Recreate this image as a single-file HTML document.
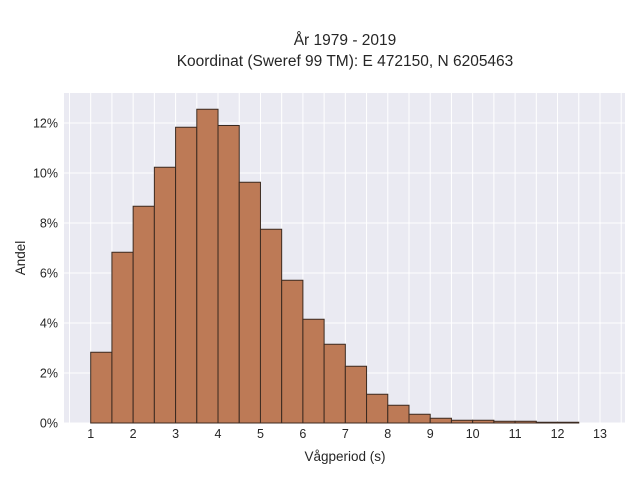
<!DOCTYPE html>
<html><head><meta charset="utf-8"><style>
body{margin:0;background:#fff;}
svg text{font-family:"Liberation Sans",sans-serif;fill:#262626;}
</style></head><body>
<svg id="chart" width="640" height="480">
<text x="345" y="45" text-anchor="middle" font-size="15.5">År 1979 - 2019</text>
<text x="345" y="66" text-anchor="middle" font-size="15.5">Koordinat (Sweref 99 TM): E 472150, N 6205463</text>
<rect x="64" y="93" width="561" height="330" fill="#eaeaf2"/>
<g id="grid"></g>
<g id="bars"></g>
<g id="ticks"></g>
<text x="345" y="461" text-anchor="middle" font-size="13.5">Vågperiod (s)</text>
<text transform="translate(25,258) rotate(-90)" text-anchor="middle" font-size="13.5">Andel</text>
</svg>
<script>
const binStarts=[1,1.5,2,2.5,3,3.5,4,4.5,5,5.5,6,6.5,7,7.5,8,8.5,9,9.5,10,10.5,11,11.5,12];
const shares=[2.83,6.83,8.67,10.23,11.83,12.55,11.9,9.63,7.75,5.71,4.15,3.15,2.27,1.15,0.71,0.35,0.19,0.11,0.11,0.07,0.07,0.03,0.03];
const xTicks=[1,2,3,4,5,6,7,8,9,10,11,12,13];
const yTicks=[0,2,4,6,8,10,12];
const binWidth=0.5;
const ns="http://www.w3.org/2000/svg";
const X=v=>90.7+(v-1)*42.44;
const Y=v=>423-v*25;
const grid=document.getElementById('grid'),bars=document.getElementById('bars'),ticks=document.getElementById('ticks');
function mk(tag,attrs,parent){const e=document.createElementNS(ns,tag);for(const k in attrs)e.setAttribute(k,attrs[k]);parent.appendChild(e);return e;}
for(let v=0.5;v<=13.5;v+=0.5){
  const l=mk('line',{x1:X(v),x2:X(v),y1:93,y2:423,stroke:'#fff','stroke-width':1},grid);
  
  
}
yTicks.forEach(t=>{
  const l=mk('line',{x1:64,x2:625,y1:Y(t),y2:Y(t),stroke:'#fff','stroke-width':1},grid);
  
  
  const tx=mk('text',{x:58,y:Y(t)+4.5,'text-anchor':'end','font-size':12.5},ticks);
  tx.textContent=t+'%';
  
  
});
xTicks.forEach(t=>{
  const tx=mk('text',{x:X(t),y:438,'text-anchor':'middle','font-size':12.5},ticks);
  tx.textContent=t;
  
  
});
binStarts.forEach((b,i)=>{
  const r=mk('rect',{x:X(b),y:Y(shares[i]),width:X(b+binWidth)-X(b),height:Y(0)-Y(shares[i]),fill:'#bd7a56',stroke:'#3b2a20','stroke-width':1},bars);
  
  
});
</script>
</body></html>
